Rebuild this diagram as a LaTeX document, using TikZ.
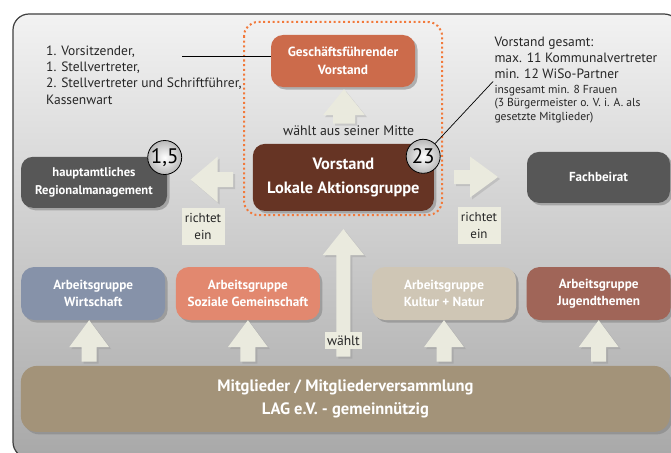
\documentclass[tikz,border=0pt]{standalone}
\usepackage{fontspec}
\setmainfont{PT Sans}
\usetikzlibrary{shadows,calc}
\definecolor{gfcol}{HTML}{CC6B4B}
\definecolor{lagcol}{HTML}{663424}
\definecolor{darkbox}{HTML}{575757}
\definecolor{wcol}{HTML}{8692A9}
\definecolor{scol}{HTML}{E2886F}
\definecolor{kcol}{HTML}{CFC6B5}
\definecolor{jcol}{HTML}{A06558}
\definecolor{mcol}{HTML}{A39379}
\definecolor{arrcol}{HTML}{EAEADE}
\definecolor{lblcol}{HTML}{ECECDF}
\definecolor{dotorange}{HTML}{F2793A}
\definecolor{txtcol}{HTML}{262626}
\definecolor{framecol}{HTML}{404040}
\newcommand\blkup[5]{% tip, base, head half, shaft half, head length
  \fill[blockarrow] let \p1=#1, \p2=#2 in
    (\x1,\y1) -- (\x1+#3,\y1-#5) -- (\x1+#4,\y1-#5) -- (\x1+#4,\y2)
    -- (\x1-#4,\y2) -- (\x1-#4,\y1-#5) -- (\x1-#3,\y1-#5) -- cycle;}
\newcommand\blkleft[5]{% tip, tail, head half, shaft half, head length
  \fill[blockarrow] let \p1=#1, \p2=#2 in
    (\x1,\y1) -- (\x1+#5,\y1+#3) -- (\x1+#5,\y1+#4) -- (\x2,\y1+#4)
    -- (\x2,\y1-#4) -- (\x1+#5,\y1-#4) -- (\x1+#5,\y1-#3) -- cycle;}
\newcommand\blkright[5]{% tip, tail, head half, shaft half, head length
  \fill[blockarrow] let \p1=#1, \p2=#2 in
    (\x1,\y1) -- (\x1-#5,\y1+#3) -- (\x1-#5,\y1+#4) -- (\x2,\y1+#4)
    -- (\x2,\y1-#4) -- (\x1-#5,\y1-#4) -- (\x1-#5,\y1-#3) -- cycle;}
\begin{document}
\begin{tikzpicture}[x=1pt,y=-1pt,
  box/.style={rectangle, rounded corners=12pt, text=white, align=center,
    inner sep=0pt,
    drop shadow={shadow xshift=2.5pt, shadow yshift=-2.5pt, opacity=0.55}},
  agbox/.style={box, minimum width=144pt, minimum height=53pt,
    rounded corners=13pt, font=\bfseries\fontsize{13.2}{17.3}\selectfont},
  blockarrow/.style={fill=arrcol,
    drop shadow={shadow xshift=2pt, shadow yshift=-2pt, opacity=0.25}},
  lbl/.style={fill=lblcol, text=txtcol, align=center, inner sep=0pt,
    minimum width=43pt, minimum height=37pt,
    font=\fontsize{13}{17}\selectfont},
  txt/.style={text=txtcol, align=left, inner sep=0pt},
  numcirc/.style={circle, draw=black, line width=0.8pt, minimum size=34pt,
    inner sep=0pt, shading=radial, inner color=white, outer color=gray!55,
    font=\fontsize{21}{21}\selectfont}]
\useasboundingbox (0,0) rectangle (671,452);
\fill[white] (0,0) rectangle (671,452);
\begin{scope}
\clip (0,0) rectangle (671,452);
\draw[framecol, line width=1.2pt, rounded corners=16pt, top color=black!5,
  bottom color=black!34] (13,14) rectangle (680,458);
\end{scope}
% dotted group
\draw[dotorange, line width=2pt, dash pattern=on 2pt off 2.7pt,
  rounded corners=14pt] (244,22) rectangle (442,215);
% boxes
\node[box, fill=gfcol, minimum width=144pt, minimum height=52pt,
  font=\bfseries\fontsize{13.3}{17.7}\selectfont] (gf) at (343,61)
  {Geschäftsführender\\Vorstand};
\node[box, fill=lagcol, minimum width=181pt, minimum height=67pt,
  font=\bfseries\fontsize{16.4}{23.3}\selectfont] (lag) at (343.4,177.4)
  {Vorstand\\Lokale Aktionsgruppe};
\node[box, fill=darkbox, minimum width=146pt, minimum height=51pt,
  font=\bfseries\fontsize{12.6}{17.3}\selectfont] (rm) at (94,182.3)
  {hauptamtliches\\Regionalmanagement};
\node[box, fill=darkbox, minimum width=143pt, minimum height=51pt,
  font=\bfseries\fontsize{13.1}{17}\selectfont] (fb) at (598.5,177.4)
  {Fachbeirat};
\node[agbox, fill=wcol] (w1) at (93.2,293.5) {Arbeitsgruppe\\Wirtschaft};
\node[agbox, fill=scol] (w2) at (247.9,293.5) {Arbeitsgruppe\\Soziale Gemeinschaft};
\node[agbox, fill=kcol] (w3) at (444,293.5) {Arbeitsgruppe\\Kultur + Natur};
\node[agbox, fill=jcol] (w4) at (598.7,293.5) {Arbeitsgruppe\\Jugendthemen};
\node[box, fill=mcol, minimum width=649pt, minimum height=66pt,
  rounded corners=16pt, font=\bfseries\fontsize{16.5}{22.7}\selectfont]
  (mit) at (345.4,398.9)
  {Mitglieder / Mitgliederversammlung\\LAG e.V. - gemeinnützig};
% block arrows
\blkup{($(gf.south)+(1,2)$)}{($(lag.north)+(0,-20)$)}{21pt}{11pt}{26pt}
\blkup{($(lag.south)+(0,18)$)}{($(mit.north)+(0,-9)$)}{20.7pt}{7pt}{26pt}
\blkup{($(w1.south)+(-4,0)$)}{($(mit.north)+(0,-4)$)}{20pt}{7.5pt}{27pt}
\blkup{(w2.south)}{($(mit.north)+(0,-4)$)}{20pt}{7.5pt}{27pt}
\blkup{(w3.south)}{($(mit.north)+(0,-4)$)}{20pt}{7.5pt}{27pt}
\blkup{(w4.south)}{($(mit.north)+(0,-4)$)}{20pt}{7.5pt}{27pt}
\coordinate (ltip) at (190.7,179.5);
\coordinate (ltail) at (233,179.5);
\coordinate (rtip) at (498,177);
\coordinate (rtail) at (454,177);
\blkleft{(ltip)}{(ltail)}{23pt}{7.5pt}{27pt}
\blkright{(rtip)}{(rtail)}{20.5pt}{7pt}{28pt}
% labels
\node[lbl] (ri1) at (203,226.5) {richtet\\ein};
\node[lbl] (ri2) at (479,225.5) {richtet\\ein};
\node[fill=lblcol, text=txtcol, inner sep=1.5pt, minimum width=37pt,
  minimum height=17.5pt, font=\fontsize{13.6}{15}\selectfont] (wl) at (343.4,340.3) {wählt};
\node[txt, anchor=base, font=\fontsize{13.8}{15}\selectfont] (wam) at (348.7,135.7)
  {wählt aus seiner Mitte};
% side texts (base anchor = last line)
\node[txt, anchor=base west, font=\fontsize{13.5}{16.1}\selectfont] (lt) at (46,104)
  {1. Vorsitzender,\\1. Stellvertreter,\\2. Stellvertreter und Schriftführer,\\Kassenwart};
\node[txt, anchor=base west, font=\fontsize{13.5}{15.8}\selectfont] (rt1) at (494.3,78.3)
  {Vorstand gesamt:\\max. 11 Kommunalvertreter\\min. 12 WiSo-Partner};
\node[txt, anchor=base west, font=\fontsize{11.6}{13.4}\selectfont] (rt2) at (494.3,120)
  {insgesamt min. 8 Frauen\\(3 Bürgermeister o. V. i. A. als\\gesetzte Mitglieder)};
\coordinate (lstart) at (182,56.7);
\draw[black, line width=0.7pt] (lstart) -- (lstart -| gf.west);
% number circles
\node[numcirc] (c23) at (423.2,156.3) {23};
\node[numcirc] (c15) at (164.7,157.5) {1,5};
\coordinate (frauen) at (493,81.5);
\draw[black, line width=0.7pt] (c23) -- (frauen);
\end{tikzpicture}
\end{document}
